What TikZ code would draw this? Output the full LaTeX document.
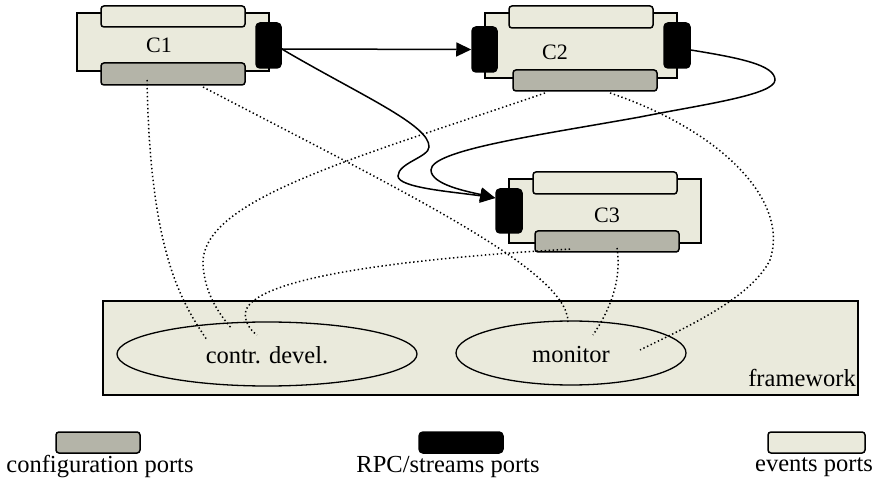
\documentclass[tikz,border=0pt]{standalone}
\usepackage{fontspec}
\setmainfont{Liberation Serif}
\usetikzlibrary{arrows.meta,shapes.geometric}
\definecolor{beige}{RGB}{234,234,220}
\definecolor{cfggray}{RGB}{180,180,168}
\begin{document}
\begin{tikzpicture}[x=1pt,y=-1pt,
  compbody/.style={draw, line width=1.2pt, fill=beige, inner sep=0pt},
  evport/.style={draw, line width=1.5pt, rounded corners=3pt, fill=beige, inner sep=0pt},
  cfgport/.style={draw, line width=1.5pt, rounded corners=3pt, fill=cfggray, inner sep=0pt},
  rpcport/.style={draw, line width=1.5pt, rounded corners=4pt, fill=black, inner sep=0pt},
  lbl/.style={inner sep=0pt, font=\fontsize{22}{26}\selectfont},
  txt/.style={inner sep=0pt, font=\fontsize{24.5}{28}\selectfont},
  rpcline/.style={line width=1.5pt, -{Triangle[length=15pt,width=14pt]}},
  dotline/.style={line width=1.5pt, dash pattern=on 1.4pt off 2.6pt}]
\useasboundingbox (0,0) rectangle (879,481);

% framework
\node[compbody, minimum width=755pt, minimum height=94pt] (fw) at (480.5,348) {};
\node[txt, anchor=base east] (fwl) at (856,386) {framework};
\node[draw, line width=1.3pt, ellipse, minimum width=300pt, minimum height=64pt, inner sep=0pt] (cd) at (267,354) {};
\node[txt] (cdl) at (267,355) {contr. devel.};
\node[draw, line width=1.3pt, ellipse, minimum width=230pt, minimum height=64pt, inner sep=0pt] (mon) at (571,353) {};
\node[txt] (monl) at (571,355) {monitor};

% C1
\node[compbody, minimum width=192pt, minimum height=58pt] (c1) at (173,42) {};
\node[evport, minimum width=144pt, minimum height=21pt] (c1ev) at (173,16.5) {};
\node[cfgport, minimum width=144pt, minimum height=22pt] (c1cfg) at (173,74) {};
\node[rpcport, minimum width=25pt, minimum height=45pt] (c1rpc) at (268.5,45.5) {};
\node[lbl] (c1l) at (159,45) {C1};

% C2
\node[compbody, minimum width=192pt, minimum height=65pt] (c2) at (581,45.5) {};
\node[evport, minimum width=144pt, minimum height=22pt] (c2ev) at (581,17) {};
\node[cfgport, minimum width=144pt, minimum height=21pt] (c2cfg) at (585,80.5) {};
\node[rpcport, minimum width=25pt, minimum height=45pt] (c2rpcl) at (484.5,49.5) {};
\node[rpcport, minimum width=26pt, minimum height=45pt] (c2rpcr) at (677,45.5) {};
\node[lbl] (c2l) at (555,52) {C2};

% C3
\node[compbody, minimum width=192pt, minimum height=64pt] (c3) at (605,211) {};
\node[evport, minimum width=144pt, minimum height=22pt] (c3ev) at (605,183) {};
\node[cfgport, minimum width=144pt, minimum height=21pt] (c3cfg) at (607,241.5) {};
\node[rpcport, minimum width=26pt, minimum height=44pt] (c3rpc) at (509,211) {};
\node[lbl] (c3l) at (607,215) {C3};

% RPC / stream connectors
\draw[rpcline] ([yshift=-3.5pt]c1rpc.east) -- (c2rpcl.west);
\draw[rpcline] ([yshift=-3.5pt]c1rpc.east) .. controls (360,95) and (430,125) .. (429,147)
  .. controls (429,157) and (398,163) .. (398,176)
  .. controls (398,188) and (455,192) .. ([yshift=13pt]c3rpc.west);
\draw[rpcline] ([yshift=-4.5pt]c2rpcr.east) .. controls (740,58) and (775,65) .. (775,80)
  .. controls (775,95) and (700,105) .. (640,117)
  .. controls (540,135) and (431,150) .. (431,170)
  .. controls (431,185) and (470,192) .. ([yshift=13pt]c3rpc.west);

% connection points
\coordinate (p1a) at (147,80);
\coordinate (p1b) at (203,87);
\coordinate (p2a) at (545,93);
\coordinate (p2b) at (610,93);
\coordinate (p3a) at (570,249);
\coordinate (p3b) at (617,248);
\coordinate (e1a) at (207,340);
\coordinate (e1b) at (232,329);
\coordinate (e1c) at (257,335);
\coordinate (e2a) at (568,322);
\coordinate (e2b) at (593,335);
\coordinate (e2c) at (640,350);

% configuration connectors
\draw[dotline] (p1a) .. controls (150,250) and (180,300) .. (e1a);
\draw[dotline] (p1b) .. controls (400,190) and (568,270) .. (e2a);
\draw[dotline] (p2a) .. controls (350,160) and (200,200) .. (203,265)
  .. controls (205,295) and (220,315) .. (e1b);
\draw[dotline] (p3a) .. controls (420,258) and (260,275) .. (246,310)
  .. controls (243,320) and (250,330) .. (e1c);
\draw[dotline] (p2b) .. controls (720,130) and (790,200) .. (770,260)
  .. controls (750,300) and (680,330) .. (e2c);
\draw[dotline] (p3b) .. controls (622,280) and (610,310) .. (e2b);

% legend
\node[cfgport, minimum width=84pt, minimum height=21pt] (lg1) at (98,442.5) {};
\node[txt] (lg1t) at (100,467) {configuration ports};
\node[rpcport, minimum width=84pt, minimum height=21pt] (lg2) at (461,442.5) {};
\node[txt] (lg2t) at (448,467) {RPC/streams ports};
\node[evport, minimum width=97pt, minimum height=21pt] (lg3) at (816.5,442.5) {};
\node[txt] (lg3t) at (814,467) {events ports};
\end{tikzpicture}
\end{document}
